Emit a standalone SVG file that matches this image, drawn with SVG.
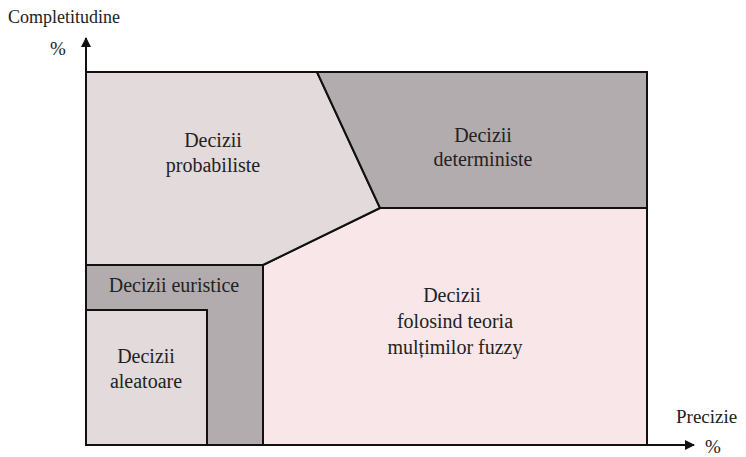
<svg xmlns="http://www.w3.org/2000/svg" width="746" height="457" viewBox="0 0 746 457">
<style>
text{font-family:"Liberation Serif","DejaVu Serif","Times New Roman",Times,serif;font-size:20px;fill:#222;}
.c{text-anchor:middle;}
.r{stroke:#111;stroke-width:2;stroke-linejoin:miter;}
.light{fill:#e2dadb;}
.dark{fill:#b2acae;}
.pink{fill:#f8e6e9;}
.ax{stroke:#111;stroke-width:2;fill:none;}
</style>
<defs>
<marker id="arr" viewBox="0 0 10 10" refX="9" refY="5" markerWidth="5" markerHeight="5" orient="auto-start-reverse" markerUnits="strokeWidth">
<path d="M0,0 L10,5 L0,10 z" fill="#111"/>
</marker>
</defs>
<g id="fuzzy"><polygon class="r pink" points="380,208 647,208 647,445 263,445 263,265"/>
<text class="c" x="452" y="302">Decizii</text><text class="c" x="455" y="328">folosind teoria</text><text class="c" x="455" y="354">mulțimilor fuzzy</text></g>
<g id="probabiliste"><polygon class="r light" points="86,72 317,72 380,208 263,265 86,265"/>
<text class="c" x="213" y="147">Decizii</text><text class="c" x="213" y="172">probabiliste</text></g>
<g id="deterministe"><polygon class="r dark" points="317,72 647,72 647,208 380,208"/>
<text class="c" x="483" y="142">Decizii</text><text class="c" x="483" y="166">deterministe</text></g>
<g id="euristice"><polygon class="r dark" points="86,265 263,265 263,445 86,445"/>
<text class="c" x="174" y="292">Decizii euristice</text></g>
<g id="aleatoare"><polygon class="r light" points="86,310 207,310 207,445 86,445"/>
<text class="c" x="146" y="363">Decizii</text><text class="c" x="146" y="388">aleatoare</text></g>
<g id="connectors">
<line class="ax" x1="86" y1="445" x2="86" y2="38" marker-end="url(#arr)"/>
<line class="ax" x1="86" y1="445" x2="694" y2="445" marker-end="url(#arr)"/>
</g>
<text x="8" y="23" style="font-size:18px">Completitudine</text>
<text x="50" y="55" style="font-size:19px">%</text>
<text x="676" y="423" style="font-size:19px">Precizie</text>
<text x="705" y="453" style="font-size:19px">%</text>
</svg>
